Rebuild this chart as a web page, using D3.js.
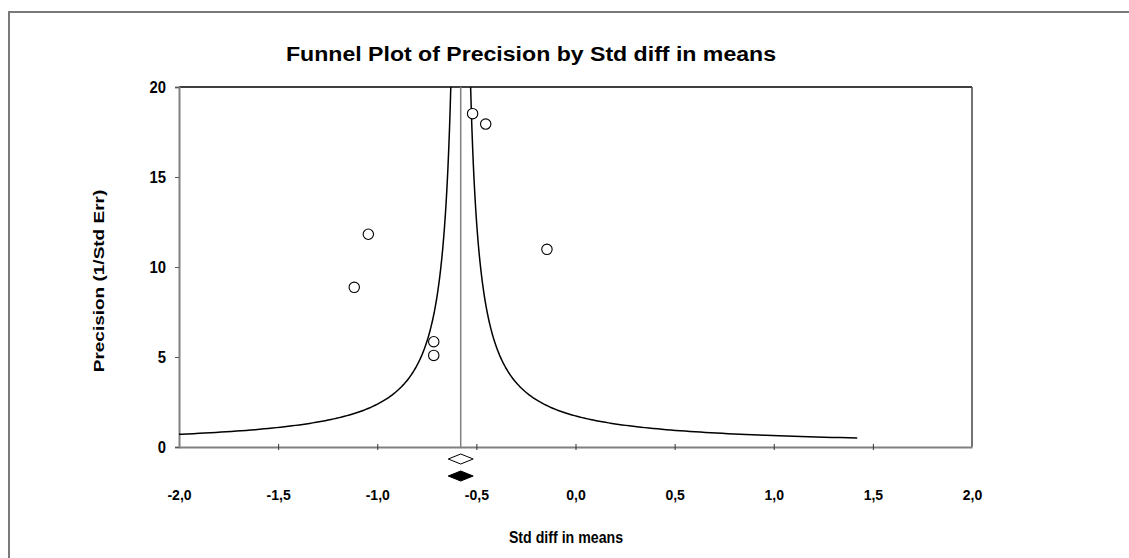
<!DOCTYPE html>
<html>
<head>
<meta charset="utf-8">
<script src="https://cdn.jsdelivr.net/npm/d3@7"></script>
<style>
    html, body { margin: 0; padding: 0; background: #fff; }
    svg { display: block; font-family: "Liberation Sans", Arial, sans-serif; }
</style>
</head>
<body>
<svg id="funnelChart"></svg>
<script>
(function () {
    'use strict';

    // studies (effect size, precision)
    const studyDiff = [-0.519, -0.453, -1.045, -1.116, -0.144, -0.715, -0.715];
    const studyPrecision = [18.52, 17.94, 11.82, 8.87, 10.98, 5.85, 5.09];

    // summary diamonds: [lower, point, upper]
    const observedSummary = [-0.642, -0.579, -0.516];
    const adjustedSummary = [-0.642, -0.579, -0.516];

    const xTickValues = [-2, -1.5, -1, -0.5, 0, 0.5, 1, 1.5, 2];
    const yTickValues = [0, 5, 10, 15, 20];
    const funnelZ = 1.0;
    const funnelPrecisionRange = [0.5, 40];

    const fontFamily = '"Liberation Sans", Arial, sans-serif';
    const width = 1129;
    const height = 558;
    const margin = {
        'top': 87,
        'right': 157,
        'bottom': 111,
        'left': 179,
    };
    const innerW = width - margin.left - margin.right;
    const innerH = height - margin.top - margin.bottom;

    const svg = d3.select('#funnelChart')
        .attr('width', width)
        .attr('height', height);

    svg.append('rect')
        .attr('width', width)
        .attr('height', height)
        .attr('fill', '#fff');

    // outer frame
    svg.append('rect')
        .attr('x', 9)
        .attr('y', 12)
        .attr('width', width + 20)
        .attr('height', height + 20)
        .attr('fill', 'none')
        .attr('stroke', '#7a7a7a')
        .attr('stroke-width', 2);

    const xScale = d3.scaleLinear().domain([-2, 2]).range([0, innerW]);
    const yScale = d3.scaleLinear().domain([0, 20]).range([innerH, 0]);
    const fmt = d => d3.format('.1f')(d).replace('.', ',').replace('\u2212', '-');

    const chart = svg.append('g')
        .attr('transform', `translate(${margin.left}, ${margin.top})`);

    chart.append('defs').append('clipPath')
        .attr('id', 'plotClip')
        .append('rect')
        .attr('width', innerW)
        .attr('height', innerH);

    // bold label, squeezed/stretched along its own direction
    function label(x, y, txt, size, sx, rotate) {
        const t = `translate(${x}, ${y})` + (rotate ? ` scale(${sx}, 1) rotate(-90)` : ` scale(${sx}, 1)`);
        return svg.append('text')
            .attr('transform', t)
            .attr('text-anchor', 'middle')
            .attr('font-family', fontFamily)
            .attr('font-size', size)
            .attr('font-weight', 'bold')
            .attr('fill', '#000')
            .text(txt);
    }

    label(531, 61, 'Funnel Plot of Precision by Std diff in means', 21, 1.1, false);
    label(566, 543, 'Std diff in means', 16.5, 0.86, false);
    label(104, 281, 'Precision (1/Std Err)', 19, 0.75, true);

    // top and right frame of plot
    chart.append('line')
        .attr('x1', 0).attr('x2', innerW)
        .attr('y1', 0).attr('y2', 0)
        .attr('stroke', '#000')
        .attr('stroke-width', 1.5);
    chart.append('line')
        .attr('x1', innerW).attr('x2', innerW)
        .attr('y1', 0).attr('y2', innerH)
        .attr('stroke', '#444')
        .attr('stroke-width', 1.5);

    // y axis
    const yAxis = d3.axisLeft(yScale)
        .tickValues(yTickValues)
        .tickSize(4)
        .tickPadding(9)
        .tickFormat(d3.format('d'));
    const gy = chart.append('g').call(yAxis);
    gy.select('.domain').attr('stroke', '#808080').attr('stroke-width', 2);
    gy.selectAll('.tick line').attr('stroke', '#555');
    gy.selectAll('.tick text')
        .attr('x', 0)
        .attr('font-size', 16.5)
        .attr('font-weight', 'bold')
        .attr('font-family', fontFamily)
        .attr('fill', '#000')
        .attr('dy', '0.36em')
        .attr('transform', 'translate(-13, 0) scale(0.9, 1)');

    // x axis
    const xAxis = d3.axisBottom(xScale)
        .tickValues(xTickValues)
        .tickSize(6)
        .tickSizeOuter(0)
        .tickFormat(fmt);
    const gx = chart.append('g')
        .attr('transform', `translate(0, ${innerH})`)
        .call(xAxis);
    gx.select('.domain').attr('stroke', '#808080').attr('stroke-width', 2);
    gx.selectAll('.tick line').attr('y1', -3).attr('y2', 3).attr('stroke', '#333');
    gx.selectAll('.tick text')
        .attr('y', 53)
        .attr('dy', 0)
        .attr('font-size', 14)
        .attr('font-weight', 'bold')
        .attr('font-family', fontFamily)
        .attr('fill', '#000');
    gx.selectAll('.tick')
        .filter(d => d === -2 || d === 2)
        .select('line').remove();

    const plot = chart.append('g').attr('clip-path', 'url(#plotClip)');

    // mean line
    const mean = observedSummary[1];
    plot.append('line')
        .attr('x1', xScale(mean)).attr('x2', xScale(mean))
        .attr('y1', 0).attr('y2', innerH)
        .attr('stroke', '#808080')
        .attr('stroke-width', 1.5);

    // funnel limits
    const precisions = d3.range(0, 201).map(i =>
        funnelPrecisionRange[0] * Math.pow(funnelPrecisionRange[1] / funnelPrecisionRange[0], i / 200));
    const line = d3.line()
        .x(d => xScale(d.x))
        .y(d => yScale(d.p));
    [-1, 1].forEach(side => {
        plot.append('path')
            .datum(precisions.map(p => ({ x: mean + side * funnelZ / p, p: p })))
            .attr('d', line)
            .attr('fill', 'none')
            .attr('stroke', '#000')
            .attr('stroke-width', 1.5);
    });

    // studies
    plot.selectAll('circle.study')
        .data(studyDiff.map((d, i) => ({ x: d, p: studyPrecision[i] })))
        .enter()
        .append('circle')
        .attr('class', 'study')
        .attr('cx', d => xScale(d.x))
        .attr('cy', d => yScale(d.p))
        .attr('r', 5.2)
        .attr('fill', '#fff')
        .attr('stroke', '#000')
        .attr('stroke-width', 1.1);

    // summary diamonds
    function diamond(vals, cy, filled) {
        const pts = [
            [xScale(vals[0]), cy],
            [xScale(vals[1]), cy - 5],
            [xScale(vals[2]), cy],
            [xScale(vals[1]), cy + 5],
        ];
        chart.append('polygon')
            .attr('points', pts.map(p => p.join(',')).join(' '))
            .attr('fill', filled ? '#000' : '#fff')
            .attr('stroke', '#000')
            .attr('stroke-width', 1);
    }
    diamond(observedSummary, innerH + 12, false);
    diamond(adjustedSummary, innerH + 29, true);
})();
</script>
</body>
</html>
